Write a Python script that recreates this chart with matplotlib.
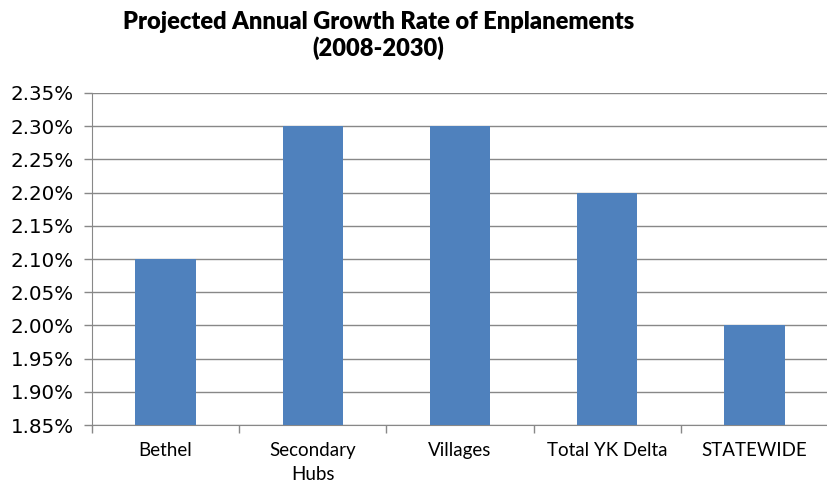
import matplotlib as mpl
mpl.use('Agg')
import matplotlib.pyplot as plt
import numpy as np

categories = ['Bethel', 'Secondary\nHubs', 'Villages', 'Total YK Delta', 'STATEWIDE']
growth = [2.10, 2.30, 2.30, 2.20, 2.00]
yticks = [1.85, 1.90, 1.95, 2.00, 2.05, 2.10, 2.15, 2.20, 2.25, 2.30, 2.35]

plt.rcParams['font.family'] = ['Lato', 'DejaVu Sans']

fig = plt.figure(figsize=(8.28, 4.91), dpi=100)
ax = fig.add_axes([0.111, 0.134, 0.889, 0.677])

x = np.arange(len(categories))
ax.bar(x, np.array(growth) - 1.85, bottom=1.85, width=0.41, color='#4F81BD', zorder=3)

ax.set_xlim(-0.5, len(categories) - 0.5)
ax.set_ylim(1.85, 2.35)
ax.set_yticks(yticks)
ax.set_yticklabels(['{:.2f}%'.format(v) for v in yticks], fontsize=14.3, family=['DejaVu Sans'])
ax.set_xticks(x)
ax.set_xticklabels(categories, fontsize=13.5, linespacing=1.5)
ax.set_xticks(np.arange(len(categories) + 1) - 0.5, minor=True)
ax.tick_params(axis='x', which='major', length=0, pad=12)
ax.tick_params(axis='x', which='minor', length=6, color='#888888', width=1)
ax.tick_params(axis='y', length=6, color='#888888', width=1, pad=7)

ax.yaxis.grid(True, color='#888888', linewidth=1, zorder=0)
for s in ['top', 'right']:
    ax.spines[s].set_visible(False)
ax.spines['left'].set_color('#888888')
ax.spines['bottom'].set_color('#888888')

fig.text(0.457, 0.978, 'Projected Annual Growth Rate of Enplanements\n(2008-2030)',
         ha='center', va='top', fontsize=17, fontweight='heavy', linespacing=1.2)

plt.savefig('out.png', dpi=100)
